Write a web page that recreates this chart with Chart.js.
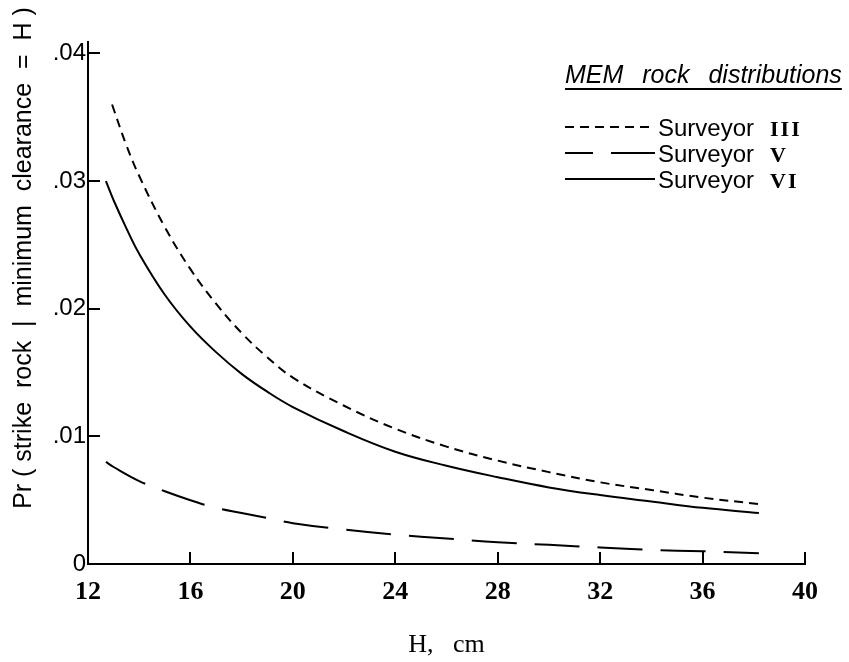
<!DOCTYPE html>
<html lang="en">
<head>
<meta charset="UTF-8">
<title>Pr (strike rock | minimum clearance = H)</title>
<script src="https://cdn.jsdelivr.net/npm/chart.js"></script>
<style>
  body { margin: 0; background: #fff; }
  #wrap { position: relative; width: 849px; height: 662px; }
  #legend { position: absolute; left: 565px; top: 59px; color: #000; }
  .lg-title {
    font: italic 25px "Liberation Sans", sans-serif;
    line-height: 30px;
    word-spacing: 12px;
    text-decoration: underline;
    text-underline-offset: 5px;
    text-decoration-thickness: 1.5px;
    white-space: nowrap;
  }
  .lg-rows { margin-top: 25px; }
  .lg-row { display: flex; align-items: baseline; height: 26px; line-height: 26px; white-space: nowrap; }
  .lg-row svg { flex: none; margin-right: 3px; align-self: flex-start; }
  .sv { font: 24px "Liberation Sans", sans-serif; }
  .rn { font: bold 22px "Liberation Serif", serif; margin-left: 16px; letter-spacing: 2px; }
</style>
</head>
<body>
<div id="wrap">
  <canvas id="chart" width="849" height="662"></canvas>
  <div id="legend"></div>
</div>
<script>
// axis ticks
const xTicks = [12, 16, 20, 24, 28, 32, 36, 40];
const yTicks = [0, 0.01, 0.02, 0.03, 0.04];

const seriesNames = ['Surveyor III', 'Surveyor V', 'Surveyor VI'];

// H (cm) and Pr values
const hIII = [12.94, 13.5, 14, 15, 16, 17, 18, 19, 20, 22, 24, 26, 28, 30, 32, 34, 36, 38.2];
const prIII = [0.0360, 0.0328, 0.0304, 0.0264, 0.0231, 0.0204, 0.0181, 0.0162, 0.0146, 0.0124, 0.0106, 0.0092, 0.0081, 0.0072, 0.0064, 0.0058, 0.0052, 0.0047];

const hV = [12.7, 13, 14, 15, 16, 17, 18, 19, 20, 22, 24, 26, 28, 30, 32, 34, 36, 38.2];
const prV = [0.0080, 0.0076, 0.0065, 0.0057, 0.0050, 0.0044, 0.0040, 0.0036, 0.0032, 0.0027, 0.0023, 0.0020, 0.0017, 0.0015, 0.0013, 0.0011, 0.0010, 0.00085];

const hVI = [12.7, 13, 13.5, 14, 15, 16, 17, 18, 19, 20, 22, 24, 26, 28, 30, 32, 34, 36, 38.2];
const prVI = [0.0300, 0.0285, 0.0263, 0.0243, 0.0211, 0.0186, 0.0166, 0.0149, 0.0135, 0.0123, 0.0104, 0.0088, 0.0077, 0.0068, 0.0060, 0.0054, 0.0049, 0.0044, 0.0040];

const yTitleText = 'Pr ( strike  rock  |  minimum  clearance  =  H )';

const dashes = [[9, 6], [45, 18], []];
const legendDashOffset = [0, 17, 0];

function pts(xs, ys) {
  return xs.map((x, i) => ({ x: x, y: ys[i] }));
}

const datasets = [pts(hIII, prIII), pts(hV, prV), pts(hVI, prVI)].map((d, i) => ({
  label: seriesNames[i],
  data: d,
  borderColor: '#000',
  borderWidth: 2,
  borderDash: dashes[i],
  pointRadius: 0,
  fill: false,
  tension: 0.4
}));

const yTitle = {
  id: 'yTitle',
  afterDraw(chart) {
    const c = chart.ctx;
    c.save();
    c.translate(24, 258);
    c.rotate(-Math.PI / 2);
    c.font = '25px "Liberation Sans"';
    c.fillStyle = '#000';
    c.textAlign = 'center';
    c.textBaseline = 'middle';
    c.fillText(yTitleText, 0, 0);
    c.restore();
  }
};

const ctx = document.getElementById('chart').getContext('2d');
const chart = new Chart(ctx, {
  type: 'line',
  data: { datasets: datasets },
  options: {
    responsive: false,
    animation: false,
    layout: { padding: { top: 42, right: 44, left: 0, bottom: 0 } },
    plugins: { legend: { display: false }, tooltip: { enabled: false } },
    scales: {
      x: {
        type: 'linear',
        min: 12,
        max: 40,
        afterBuildTicks: s => { s.ticks = xTicks.map(v => ({ value: v })); },
        afterFit: s => { s.height = 98; },
        grid: { drawOnChartArea: false, tickLength: -12, color: '#000', lineWidth: 2 },
        border: { color: '#000', width: 2 },
        ticks: {
          padding: 25,
          color: '#000',
          maxRotation: 0,
          autoSkip: false,
          font: { family: '"Liberation Serif"', size: 26, weight: 'bold' }
        },
        title: {
          display: true,
          text: 'H,   cm',
          color: '#000',
          font: { family: '"Liberation Serif"', size: 26 },
          padding: { top: 0, bottom: 1 }
        }
      },
      y: {
        min: 0,
        max: 0.0409,
        afterBuildTicks: s => { s.ticks = yTicks.map(v => ({ value: v })); },
        afterFit: s => { s.width = 88; },
        grid: { drawOnChartArea: false, tickLength: -12, color: '#000', lineWidth: 2 },
        border: { color: '#000', width: 2 },
        ticks: {
          padding: 14,
          color: '#000',
          font: { family: '"Liberation Sans"', size: 24 },
          callback: v => v === 0 ? '0' : v.toFixed(2).replace(/^0/, '')
        }
      }
    }
  },
  plugins: [yTitle]
});

// legend drawn as html, from the datasets
let html = '<div class="lg-title">MEM rock distributions</div><div class="lg-rows">';
chart.data.datasets.forEach((ds, i) => {
  const parts = ds.label.split(' ');
  const dash = ds.borderDash.length ? ds.borderDash.join(' ') : 'none';
  html += '<div class="lg-row">' +
    '<svg width="90" height="26"><line x1="0" y1="13" x2="90" y2="13" stroke="#000" stroke-width="2" ' +
    'stroke-dasharray="' + dash + '" stroke-dashoffset="' + legendDashOffset[i] + '"/></svg>' +
    '<span class="sv">' + parts[0] + '</span><span class="rn">' + parts[1] + '</span></div>';
});
html += '</div>';
document.getElementById('legend').innerHTML = html;
</script>
</body>
</html>
